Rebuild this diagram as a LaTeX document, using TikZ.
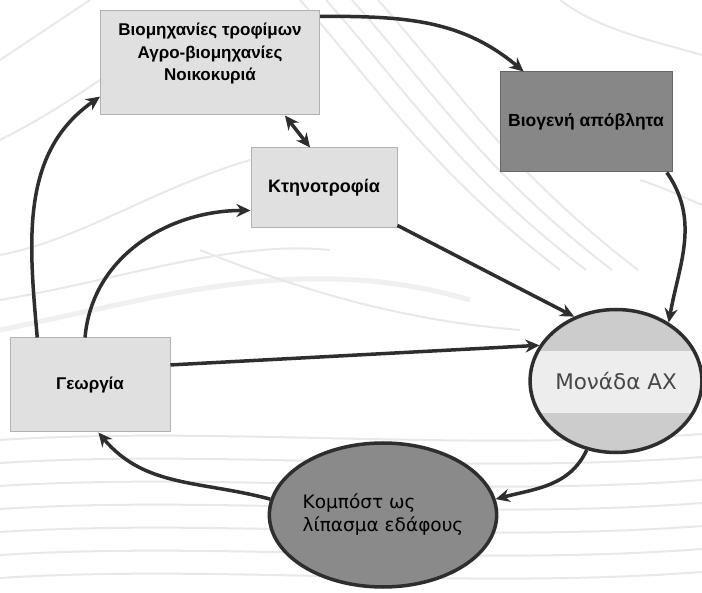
\documentclass[tikz,border=0pt]{standalone}
\usepackage{fontspec}
\setmainfont{Liberation Sans}
\newfontfamily\roundfont{DejaVu Sans}
\usetikzlibrary{arrows.meta,shapes.geometric,calc}

\begin{document}
\begin{tikzpicture}[
        x=1pt, y=1pt,
        contour/.style={draw=black!9, line width=2pt},
        flow/.style={draw=black!82, line width=3.5pt, -{Stealth[length=14pt,width=13pt]}},
        box/.style={rectangle, draw=black!30, line width=1pt, fill=black!12, align=center, inner sep=0pt, font=\bfseries\fontsize{17}{22.5}\selectfont},
        wastebox/.style={box, draw=black!60, fill=black!47},
        unit/.style={ellipse, draw=black!82, line width=3.5pt, inner sep=0pt, minimum width=167pt, minimum height=143pt},
    ]
        \useasboundingbox (0,0) rectangle (702,-593);
        \fill[white] (0,0) rectangle (702,-593);
        % background contours
        \foreach \y in {440,463,...,600}
            \draw[contour] (0,-\y) .. controls (220,-\y+14) and (460,-\y-12) .. (702,-\y+6);
        \foreach \s in {0,26,52,78}
            \draw[contour] (300+\s,0) .. controls (380+\s,-90) and (430+\s,-170) .. (560+\s,-270);
        \draw[contour] (0,-60) .. controls (30,-40) and (60,-20) .. (90,0);
        \draw[contour] (0,-140) .. controls (40,-120) and (70,-100) .. (100,-80);
        \draw[contour] (0,-255) .. controls (80,-240) and (150,-190) .. (250,-160);
        \draw[contour] (0,-300) .. controls (120,-280) and (230,-240) .. (330,-250);
        \draw[contour, line width=5pt, draw=black!6] (0,-330) .. controls (150,-300) and (300,-250) .. (470,-300);
        \draw[contour] (560,0) .. controls (600,-30) and (650,-40) .. (702,-55);
        \draw[contour] (640,-180) .. controls (670,-190) and (690,-200) .. (702,-205);
        \draw[contour] (200,-250) .. controls (300,-290) and (400,-320) .. (520,-330);

        % nodes
        \node[box, minimum width=219pt, minimum height=104pt, text depth=22pt] (food) at (210,-63)
            {Βιομηχανίες τροφίμων\\Αγρο-βιομηχανίες\\Νοικοκυριά};
        \node[wastebox, minimum width=172pt, minimum height=100pt, font=\bfseries\fontsize{17.5}{21}\selectfont] (waste) at (586,-122) {Βιογενή απόβλητα};
        \node[box, minimum width=146pt, minimum height=80pt, font=\bfseries\fontsize{18}{22}\selectfont] (stock) at (324,-188) {Κτηνοτροφία};
        \node[box, minimum width=160pt, minimum height=94pt] (farm) at (90,-385) {Γεωργία};
        \node[unit, path picture={
                \fill[black!20] (path picture bounding box.south west) rectangle (path picture bounding box.north east);
                \fill[black!7] ($(path picture bounding box.west)+(0,30)$) rectangle ($(path picture bounding box.east)+(0,-32)$);
            }, text=black!72, font=\roundfont\fontsize{21.5}{25}\selectfont] (ax) at (616,-381) {Μονάδα ΑΧ};
        \node[unit, fill=black!46, minimum width=222pt, minimum height=144pt, align=left,
            font=\roundfont\fontsize{18.5}{23}\selectfont] (compost) at (383,-515)
            {Κομπόστ ως\\λίπασμα εδάφους};

        % connectors
        \draw[flow] (food.23) to[out=0, in=140] (waste.141);
        \draw[flow] (waste.-32) to[out=-55, in=80] (ax.48);
        \draw[flow] (stock.-27) -- (ax.123);
        \draw[flow] (farm.14) -- (ax.155);
        \draw[flow] (ax.247) to[out=245, in=15] (compost.8);
        \draw[flow] (compost.172) to[out=165, in=-50] (farm.-80);
        \draw[flow] (farm.138) to[out=95, in=-145] (food.197);
        \draw[flow] (farm.96) to[out=85, in=180] (stock.197);
        \draw[flow, {Stealth[length=14pt,width=13pt]}-{Stealth[length=14pt,width=13pt]}] (food.-35) -- (stock.109);
\end{tikzpicture}
\end{document}
